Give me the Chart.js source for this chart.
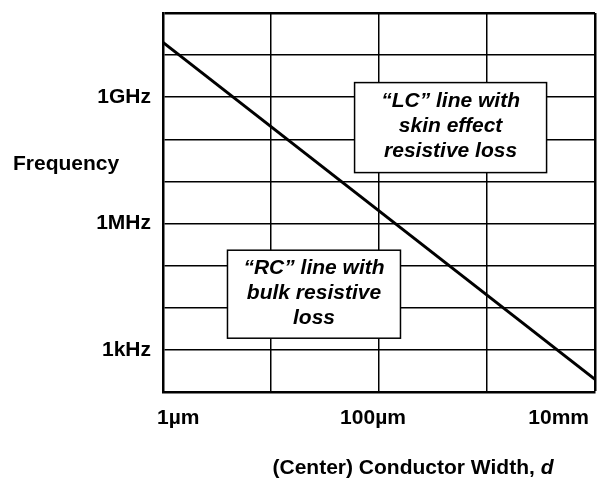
<!DOCTYPE html>
<html>
<head>
<meta charset="utf-8">
<script src="https://cdn.jsdelivr.net/npm/chart.js@4.4.1/dist/chart.umd.min.js"></script>
<style>
  html, body { margin: 0; padding: 0; background: #fff; }
  #wrap { width: 615px; height: 481px; position: relative; }
</style>
</head>
<body>
<div id="wrap"><canvas id="c"></canvas></div>
<script>
// ---- data ----
const conductorWidths = [1e-6, 1e-2];          // metres
const crossoverFreqs  = [2e10, 2e2];           // Hz
const xTickValues = [1e-6, 1e-5, 1e-4, 1e-3, 1e-2];
const xTickLabels = ['1\u00b5m', '', '100\u00b5m', '', '10mm'];
const yTickValues = [1e2, 1e3, 1e4, 1e5, 1e6, 1e7, 1e8, 1e9, 1e10, 1e11];
const yTickLabels = ['', '1kHz', '', '', '1MHz', '', '', '1GHz', '', ''];
const xAxisTitle = '(Center) Conductor Width, ';
const xAxisTitleVar = 'd';
const yAxisTitle = 'Frequency';
const regionTexts = [
  ['\u201cLC\u201d line with', 'skin effect', 'resistive loss'],
  ['\u201cRC\u201d line with', 'bulk resistive', 'loss']
];
const regionX = [4.6e-4, 2.5e-5];
const regionY = [1.9e8, 2.1e4];

// ---- styles ----
const FONT = '"Liberation Sans", Arial, Helvetica, sans-serif';
const boxSizes = [[192, 90], [173, 88]];

const labelsPlugin = {
  id: 'labels',
  afterDatasetsDraw(chart) {
    const ctx = chart.ctx;
    const xs = chart.scales.x, ys = chart.scales.y;
    ctx.save();
    // region annotation boxes
    regionTexts.forEach((lines, i) => {
      const cx = xs.getPixelForValue(regionX[i]);
      const cy = ys.getPixelForValue(regionY[i]);
      const [w, h] = boxSizes[i];
      ctx.fillStyle = '#fff';
      ctx.fillRect(cx - w / 2, cy - h / 2, w, h);
      ctx.lineWidth = 1.5;
      ctx.strokeStyle = '#000';
      ctx.strokeRect(cx - w / 2, cy - h / 2, w, h);
      ctx.fillStyle = '#000';
      ctx.font = 'italic bold 21px ' + FONT;
      ctx.textAlign = 'center';
      ctx.textBaseline = 'alphabetic';
      lines.forEach((t, k) => {
        ctx.fillText(t, cx, cy - 20.5 + k * 25);
      });
    });
    // y axis title (horizontal)
    const area = chart.chartArea;
    ctx.font = 'bold 21px ' + FONT;
    ctx.textAlign = 'left';
    ctx.textBaseline = 'alphabetic';
    ctx.fillStyle = '#000';
    ctx.fillText(yAxisTitle, area.left - 150, 170);
    // x axis title with italic variable
    const f1 = 'bold 21px ' + FONT, f2 = 'italic bold 21px ' + FONT;
    ctx.font = f1; const w1 = ctx.measureText(xAxisTitle).width;
    ctx.font = f2; const w2 = ctx.measureText(xAxisTitleVar).width;
    const cxT = (area.left + area.right) / 2 + 34;
    const x0 = cxT - (w1 + w2) / 2;
    const yb = 474;
    ctx.font = f1; ctx.fillText(xAxisTitle, x0, yb);
    ctx.font = f2; ctx.fillText(xAxisTitleVar, x0 + w1, yb);
    ctx.restore();
  }
};

new Chart(document.getElementById('c'), {
  type: 'line',
  data: {
    datasets: [{
      data: conductorWidths.map((d, i) => ({ x: d, y: crossoverFreqs[i] })),
      borderColor: '#000',
      borderWidth: 3,
      pointRadius: 0,
      fill: false,
      tension: 0
    }]
  },
  plugins: [labelsPlugin],
  options: {
    responsive: true,
    maintainAspectRatio: false,
    animation: false,
    layout: { padding: { top: 13, right: 20, left: 0, bottom: 0 } },
    plugins: { legend: { display: false }, tooltip: { enabled: false }, title: { display: false } },
    scales: {
      x: {
        type: 'logarithmic',
        min: 1e-6, max: 1e-2,
        afterBuildTicks: (axis) => { axis.ticks = xTickValues.map(v => ({ value: v })); },
        afterFit: (axis) => { axis.height = 89; axis.paddingLeft = 0; axis.paddingRight = 0; },
        grid: {
          color: '#000',
          drawTicks: false,
          lineWidth: (c) => (c.index === xTickValues.length - 1 ? 2.5 : 1.5)
        },
        border: { color: '#000', width: 2.5 },
        ticks: {
          autoSkip: false,
          maxRotation: 0,
          align: 'inner',
          labelOffset: -6,
          padding: 14,
          color: '#000',
          font: { family: FONT, size: 21, weight: 'bold' },
          callback: (v, i) => xTickLabels[i]
        }
      },
      y: {
        type: 'logarithmic',
        min: 1e2, max: 1e11,
        afterBuildTicks: (axis) => { axis.ticks = yTickValues.map(v => ({ value: v })); },
        afterFit: (axis) => { axis.width = 163; axis.paddingTop = 0; axis.paddingBottom = 0; },
        grid: {
          color: '#000',
          drawTicks: false,
          lineWidth: (c) => (c.index === yTickValues.length - 1 ? 2.5 : 1.5)
        },
        border: { color: '#000', width: 2.5 },
        ticks: {
          autoSkip: false,
          padding: 12,
          color: '#000',
          font: { family: FONT, size: 21, weight: 'bold' },
          callback: (v, i) => yTickLabels[i]
        }
      }
    }
  }
});
</script>
</body>
</html>
